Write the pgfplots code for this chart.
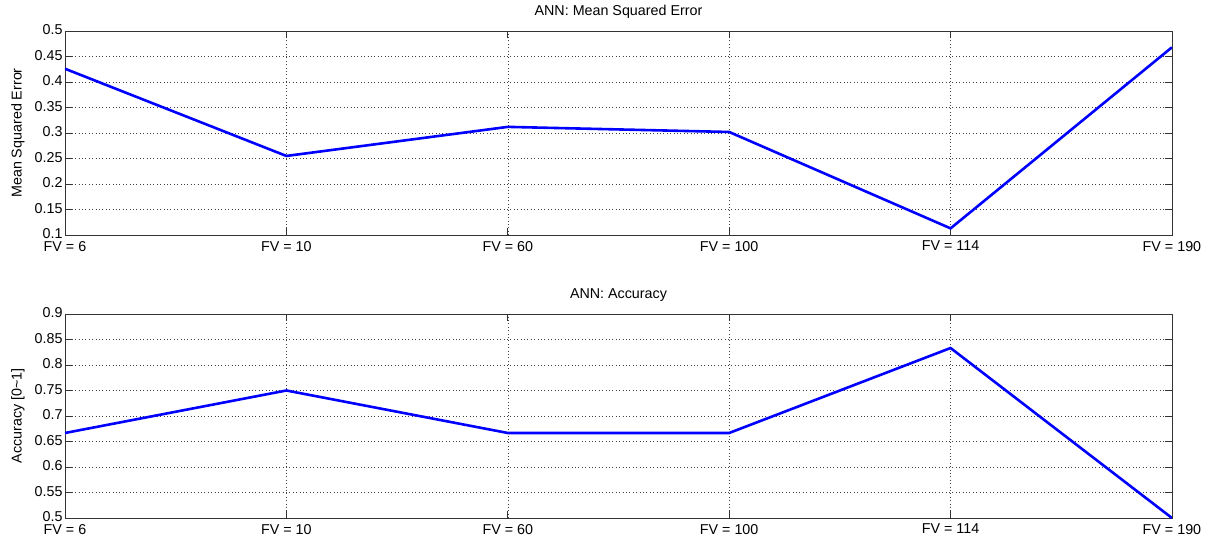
\documentclass[border=0pt]{standalone}
\usepackage{fontspec}
\setmainfont{Liberation Sans}
\usepackage{pgfplots}
\pgfplotsset{compat=1.18}

\pgfplotsset{
  matlabaxis/.style={
    scale only axis,
    width=1107pt, height=204pt,
    xmin=0, xmax=5,
    xtick={0,1,2,3,4,5},
    xticklabels={FV = 6, FV = 10, FV = 60, FV = 100, FV = 114, FV = 190},
    tick align=inside,
    major tick length=7pt,
    tick style={black!80, line width=0.6pt},
    axis line style={black!80, line width=0.9pt},
    grid=major,
    major grid style={black!75, line width=0.5pt, dash pattern=on 0.8pt off 2.6pt},
    font=\fontsize{14.3}{16}\selectfont,
    /pgf/number format/assume math mode=true,
    /pgf/number format/fixed,
    /pgf/number format/precision=2,
    xticklabel style={yshift=-2.5pt},
    yticklabel style={xshift=1pt, yshift=1pt},
    title style={at={(axis description cs:0.5,1)}, anchor=center, yshift=13pt},
    ylabel style={at={(axis description cs:-0.0425,0.5)}, anchor=center, rotate=0},
    every axis plot/.append style={blue, line width=2.6pt, line join=miter, no marks},
  },
}

\pgfplotstableread{
idx mse
0 0.426
1 0.255
2 0.312
3 0.302
4 0.113
5 0.468
}\msedata

\pgfplotstableread{
idx acc
0 0.6667
1 0.75
2 0.6667
3 0.6667
4 0.8333
5 0.5
}\accdata

\begin{document}
\begin{tikzpicture}
\path[use as bounding box] (0,0) rectangle (1208pt,542pt);
\begin{axis}[matlabaxis,
  at={(65pt,307pt)}, anchor=south west,
  ymin=0.1, ymax=0.5,
  ytick={0.1,0.15,...,0.51},
  yticklabels={0.1,0.15,0.2,0.25,0.3,0.35,0.4,0.45,0.5},
  title={ANN: Mean Squared Error},
  ylabel={Mean Squared Error},
]
\addplot table[x=idx, y=mse] {\msedata};
\end{axis}
\begin{axis}[matlabaxis,
  at={(65pt,24pt)}, anchor=south west,
  ymin=0.5, ymax=0.9,
  ytick={0.5,0.55,...,0.91},
  yticklabels={0.5,0.55,0.6,0.65,0.7,0.75,0.8,0.85,0.9},
  title={ANN: Accuracy},
  ylabel={Accuracy [0\textasciitilde1]},
]
\addplot table[x=idx, y=acc] {\accdata};
\end{axis}
\end{tikzpicture}
\end{document}
